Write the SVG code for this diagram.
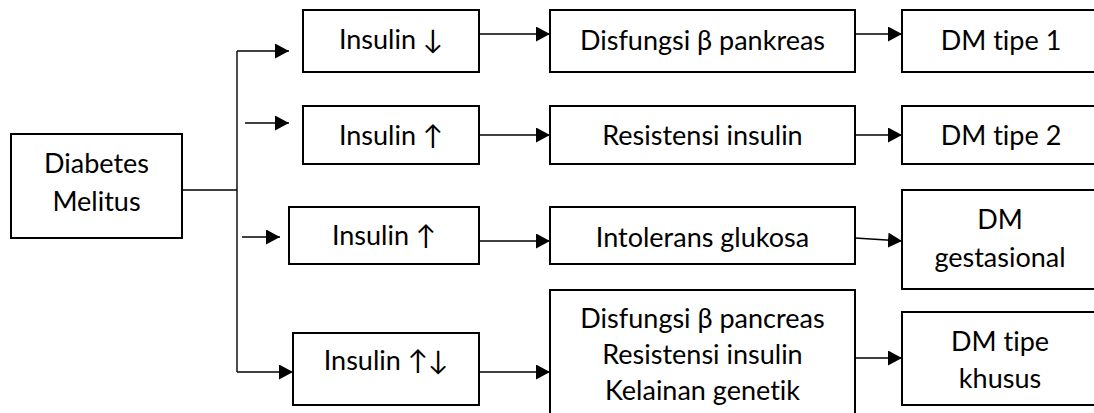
<svg xmlns="http://www.w3.org/2000/svg" width="1094" height="413" viewBox="0 0 1094 413">
<style>
.box{fill:#fff;stroke:#000;stroke-width:2}
.t{font-family:Lato,"Open Sans","Liberation Sans",sans-serif;font-size:27px;fill:#000;text-anchor:middle;font-variant-ligatures:none;font-feature-settings:"liga" 0}
.c{fill:none;stroke:#000;stroke-width:1.4}
.a{marker-end:url(#ah)}
</style>
<defs>
<marker id="ah" markerUnits="userSpaceOnUse" markerWidth="15" markerHeight="15" refX="14" refY="7.5" orient="auto">
<path d="M0,0 L14,7.5 L0,15 z" fill="#000"/>
</marker>
</defs>
<rect width="1094" height="413" fill="#fff"/>
<g id="connectors">
<path class="c" d="M182,190 H237 M237,51 V372"/>
<path class="c a" d="M237,51 H289"/>
<path class="c a" d="M245,123 H289"/>
<path class="c a" d="M242,237 H280"/>
<path class="c a" d="M237,372 H293"/>
<path class="c a" d="M479,34 H550"/>
<path class="c a" d="M479,135 H550"/>
<path class="c a" d="M479,241 H550"/>
<path class="c a" d="M479,372 H550"/>
<path class="c a" d="M855,34 H902"/>
<path class="c a" d="M855,135 H902"/>
<path class="c a" d="M855,238 L902,241"/>
<path class="c a" d="M855,358 H902"/>
</g>
<g id="diabetes-melitus">
<rect class="box" x="11" y="134" width="171" height="104"/>
<text class="t" x="96.5" y="173">Diabetes</text>
<text class="t" x="96.5" y="211">Melitus</text>
</g>
<g id="insulin-down">
<rect class="box" x="303" y="10" width="176" height="62"/>
<text class="t" x="391" y="49">Insulin ↓</text>
</g>
<g id="insulin-up-1">
<rect class="box" x="303" y="106" width="176" height="58"/>
<text class="t" x="391" y="145">Insulin ↑</text>
</g>
<g id="insulin-up-2">
<rect class="box" x="289" y="207" width="190" height="57"/>
<text class="t" x="384" y="245">Insulin ↑</text>
</g>
<g id="insulin-updown">
<rect class="box" x="293" y="333" width="186" height="72"/>
<text class="t" x="386" y="370">Insulin ↑↓</text>
</g>
<g id="disfungsi-pankreas">
<rect class="box" x="550" y="10" width="305" height="62"/>
<text class="t" x="702.5" y="50">Disfungsi β pankreas</text>
</g>
<g id="resistensi-insulin">
<rect class="box" x="550" y="106" width="305" height="58"/>
<text class="t" x="702.5" y="145">Resistensi insulin</text>
</g>
<g id="intolerans-glukosa">
<rect class="box" x="550" y="207" width="305" height="57"/>
<text class="t" x="702.5" y="247">Intolerans glukosa</text>
</g>
<g id="penyebab-khusus">
<rect class="box" x="550" y="290" width="305" height="140"/>
<text class="t" x="702.5" y="328">Disfungsi β pancreas</text>
<text class="t" x="702.5" y="364">Resistensi insulin</text>
<text class="t" x="702.5" y="400">Kelainan genetik</text>
</g>
<g id="dm-tipe-1">
<rect class="box" x="902" y="10" width="200" height="62"/>
<text class="t" x="1001" y="50">DM tipe 1</text>
</g>
<g id="dm-tipe-2">
<rect class="box" x="902" y="106" width="200" height="58"/>
<text class="t" x="1001" y="145">DM tipe 2</text>
</g>
<g id="dm-gestasional">
<rect class="box" x="902" y="190" width="200" height="99"/>
<text class="t" x="1000" y="229">DM</text>
<text class="t" x="1000" y="267">gestasional</text>
</g>
<g id="dm-tipe-khusus">
<rect class="box" x="902" y="312" width="200" height="93"/>
<text class="t" x="1000" y="351">DM tipe</text>
<text class="t" x="1000" y="388">khusus</text>
</g>
</svg>
